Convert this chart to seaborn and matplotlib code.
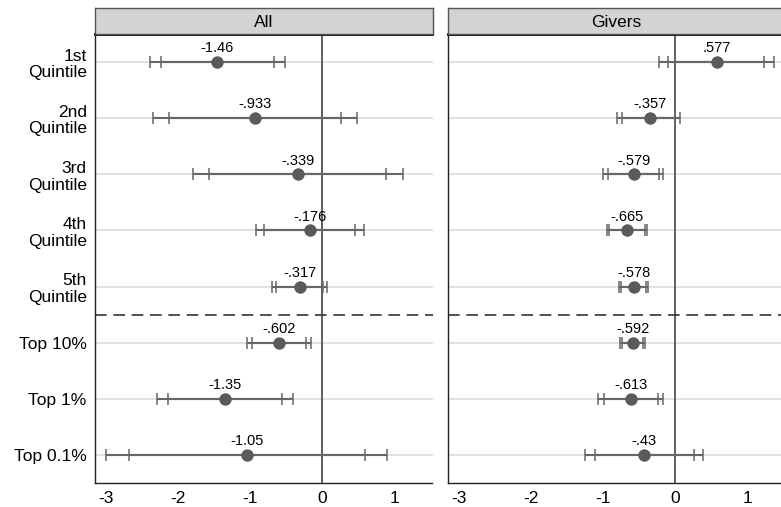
import matplotlib
matplotlib.use("Agg")
import matplotlib.pyplot as plt
import seaborn as sns
import numpy as np
import pandas as pd

categories = ["1st\nQuintile", "2nd\nQuintile", "3rd\nQuintile", "4th\nQuintile",
              "5th\nQuintile", "Top 10%", "Top 1%", "Top 0.1%"]
panels = ["All", "Givers"]

all_coef = [-1.46, -0.933, -0.339, -0.176, -0.317, -0.602, -1.35, -1.05]
all_lo90 = [-2.244, -2.125, -1.569, -0.81, -0.648, -0.976, -2.143, -2.68]
all_hi90 = [-0.675, 0.26, 0.889, 0.454, 0.005, -0.231, -0.555, 0.59]
all_lo95 = [-2.393, -2.356, -1.80, -0.925, -0.699, -1.05, -2.29, -3.0]
all_hi95 = [-0.522, 0.487, 1.121, 0.575, 0.06, -0.161, -0.407, 0.90]
all_labels = ["-1.46", "-.933", "-.339", "-.176", "-.317", "-.602", "-1.35", "-1.05"]

giv_coef = [0.577, -0.357, -0.579, -0.665, -0.578, -0.592, -0.613, -0.43]
giv_lo90 = [-0.097, -0.736, -0.935, -0.917, -0.76, -0.745, -0.995, -1.12]
giv_hi90 = [1.236, -0.005, -0.227, -0.426, -0.412, -0.454, -0.24, 0.255]
giv_lo95 = [-0.227, -0.806, -1.0, -0.954, -0.787, -0.773, -1.074, -1.25]
giv_hi95 = [1.366, 0.069, -0.171, -0.389, -0.38, -0.417, -0.171, 0.384]
giv_labels = [".577", "-.357", "-.579", "-.665", "-.578", "-.592", "-.613", "-.43"]

xticks = [-3, -2, -1, 0, 1]
xtick_labels = ["-3", "-2", "-1", "0", "1"]

sns.set_style("white")
plt.rcParams['font.family'] = ['Liberation Sans', 'DejaVu Sans']

fig = plt.figure(figsize=(7.81, 5.07), dpi=100)
W, H = 781, 507
ax_bottom = 1 - 483 / H
ax_h = (483 - 34) / H
pw = 337.5
axL = fig.add_axes([95 / W, ax_bottom, pw / W, ax_h])
axR = fig.add_axes([448 / W, ax_bottom, pw / W, ax_h])
hdr_b = 1 - 33.5 / H
hdr_h = (33.5 - 8) / H
hL = fig.add_axes([95 / W, hdr_b, pw / W, hdr_h])
hR = fig.add_axes([448 / W, hdr_b, pw / W, hdr_h])

line_col = "#666666"
pt_col = "#5a5a5a"

datasets = [
    (all_coef, all_lo90, all_hi90, all_lo95, all_hi95, all_labels),
    (giv_coef, giv_lo90, giv_hi90, giv_lo95, giv_hi95, giv_labels),
]

for ax, hax, name, (coef, lo90, hi90, lo95, hi95, labs) in zip(
        [axL, axR], [hL, hR], panels, datasets):
    df = pd.DataFrame({"cat": categories, "coef": coef,
                       "lo90": lo90, "hi90": hi90, "lo95": lo95, "hi95": hi95})
    pos = np.arange(len(categories))
    for p in pos:
        ax.axhline(p, color="#dcdcdc", lw=1.2, zorder=0)
    ax.axvline(0, color="#444444", lw=1.2, zorder=1)
    ax.axhline(4.5, color="#333333", lw=1.2, ls=(0, (7, 4)), zorder=1)
    ax.errorbar(df["coef"], pos,
                xerr=[df["coef"] - df["lo95"], df["hi95"] - df["coef"]],
                fmt="none", ecolor=line_col, elinewidth=1.5, capsize=4.5,
                capthick=1.1, zorder=2)
    ax.errorbar(df["coef"], pos,
                xerr=[df["coef"] - df["lo90"], df["hi90"] - df["coef"]],
                fmt="none", ecolor=line_col, elinewidth=1.5, capsize=4.5,
                capthick=1.1, zorder=2)
    sns.scatterplot(data=df, x="coef", y=pos, ax=ax, color=pt_col, s=80,
                    edgecolor=pt_col, linewidth=0, zorder=3, legend=False)
    for c, p, t in zip(coef, pos, labs):
        ax.text(c, p - 0.12, t, ha="center", va="bottom", fontsize=10.5, color="black")
    ax.set_xlim(-3.157, 1.53)
    ax.set_ylim(7.5, -0.5)
    ax.set_xticks(xticks)
    ax.set_xticklabels(xtick_labels, fontsize=12.5)
    ax.set_xlabel("")
    ax.set_ylabel("")
    ax.tick_params(axis="x", direction="out", length=4, width=1, color="#333333",
                   pad=1.5, labelcolor="black")
    for s in ["left", "bottom"]:
        ax.spines[s].set_color("#222222")
        ax.spines[s].set_linewidth(1.0)
    ax.spines["right"].set_visible(False)
    ax.spines["top"].set_color("#000000")
    ax.spines["top"].set_linewidth(2.0)
    hax.set_facecolor("#d3d3d3")
    hax.set_xticks([])
    hax.set_yticks([])
    for s in hax.spines.values():
        s.set_color("#555555")
        s.set_linewidth(1.0)
    hax.text(0.5, 0.45, name, transform=hax.transAxes, ha="center", va="center",
             fontsize=12.5, color="black")

axL.set_yticks(np.arange(len(categories)))
axL.set_yticklabels(categories, fontsize=12.5, linespacing=1.15, multialignment="right",
                    color="black")
axL.tick_params(axis="y", direction="out", length=4, width=1, color="#666666", pad=2)
axR.set_yticks(np.arange(len(categories)))
axR.set_yticklabels([])
axR.tick_params(axis="y", length=0)

fig.savefig("out.png", dpi=100)
